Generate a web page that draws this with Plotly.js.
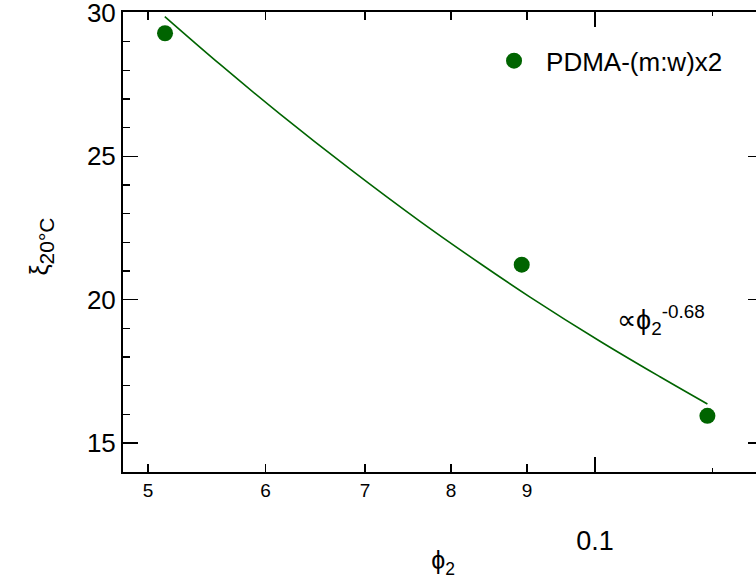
<!DOCTYPE html>
<html>
<head>
<meta charset="utf-8">
<script src="https://cdn.plot.ly/plotly-3.0.1.min.js"></script>
<style>
html,body{margin:0;padding:0;overflow:hidden;background:#fff;}
#chart{width:764px;height:583px;}
</style>
</head>
<body>
<div id="chart"></div>
<script>
// measured data
const phi2 = [0.05134, 0.08926, 0.11904];
const xi20 = [29.29, 21.22, 15.95];
// fit curve
const fitPhi = [0.05132, 0.05592, 0.06137, 0.06841, 0.07624, 0.08368, 0.09042, 0.10078, 0.11060, 0.11904];
const fitXi  = [29.87, 28.20, 26.47, 24.55, 22.73, 21.26, 20.09, 18.55, 17.31, 16.36];
// tick labels
const minorTickVals = [0.05, 0.06, 0.07, 0.08, 0.09];
const minorTickText = ['5', '6', '7', '8', '9'];
const majorTickVals = [0.1];
const majorTickText = ['0.1'];
const yTickVals = [15, 20, 25, 30];

const green = '#006400';
const FONT = 'Liberation Sans, Arial, sans-serif';
const xr = [-1.31785, -0.88687];

const traces = [
  {x: fitPhi, y: fitXi, xaxis: 'x2', yaxis: 'y', mode: 'lines', type: 'scatter',
   line: {color: green, width: 1.6, shape: 'spline', smoothing: 1}, showlegend: false, hoverinfo: 'skip'},
  {x: phi2, y: xi20, mode: 'markers', type: 'scatter', name: 'PDMA-(m:w)x2',
   marker: {color: green, size: 16}}
];

const layout = {
  width: 764, height: 583,
  margin: {l: 123, r: 1, t: 12, b: 111},
  paper_bgcolor: '#fff', plot_bgcolor: '#fff',
  font: {family: FONT, color: '#000'},
  showlegend: true,
  legend: {x: 0.561, y: 0.945, xanchor: 'left', yanchor: 'top', bgcolor: 'rgba(0,0,0,0)',
           itemwidth: 54, font: {size: 26, family: FONT, color: '#000'}},
  xaxis: {type: 'log', range: xr, tickmode: 'array', tickvals: minorTickVals, ticktext: minorTickText,
          ticks: 'inside', ticklen: 8, tickwidth: 1.5, tickcolor: '#000',
          showline: true, linewidth: 2, linecolor: '#000', mirror: 'ticks',
          showgrid: false, zeroline: false, tickfont: {size: 19},
          minor: {tickvals: [0.12], ticks: 'inside', ticklen: 4, tickwidth: 1.5, tickcolor: '#000', showgrid: false},
          title: {text: 'ϕ<sub>2</sub>', font: {size: 25}, standoff: 52}},
  xaxis2: {type: 'log', range: xr, overlaying: 'x', anchor: 'y', side: 'bottom',
           tickmode: 'array', tickvals: majorTickVals, ticktext: majorTickText,
           ticks: 'inside', ticklen: 15, tickwidth: 1.5, tickcolor: '#000', mirror: 'ticks',
           showline: false, showgrid: false, zeroline: false,
           tickfont: {size: 27}, ticklabelstandoff: 50},
  yaxis: {range: [13.99, 30.03], tickmode: 'array', tickvals: yTickVals,
          ticks: 'inside', ticklen: 15, tickwidth: 1.5, tickcolor: '#000',
          showline: true, linewidth: 2, linecolor: '#000', mirror: 'ticks',
          showgrid: false, zeroline: false, tickfont: {size: 26}, ticklabeloverflow: 'allow',
          minor: {dtick: 1, ticks: 'inside', ticklen: 7, tickwidth: 1.2, tickcolor: '#000', showgrid: false}},
  annotations: [
    {xref: 'paper', yref: 'paper', x: 0, xshift: -100, y: 0.49, textangle: -90,
     text: 'ξ<sub><span style="font-size:21px">20°C</span></sub>', showarrow: false, font: {size: 25, family: FONT}},
    {xref: 'x', yref: 'y', x: Math.log10(0.1031), y: 19.3, xanchor: 'left',
     text: '∝ϕ<sub>2</sub><sup>-0.68</sup>', showarrow: false, font: {size: 27, family: FONT}}
  ]
};

Plotly.newPlot('chart', traces, layout, {displayModeBar: false, staticPlot: true});
</script>
</body>
</html>
